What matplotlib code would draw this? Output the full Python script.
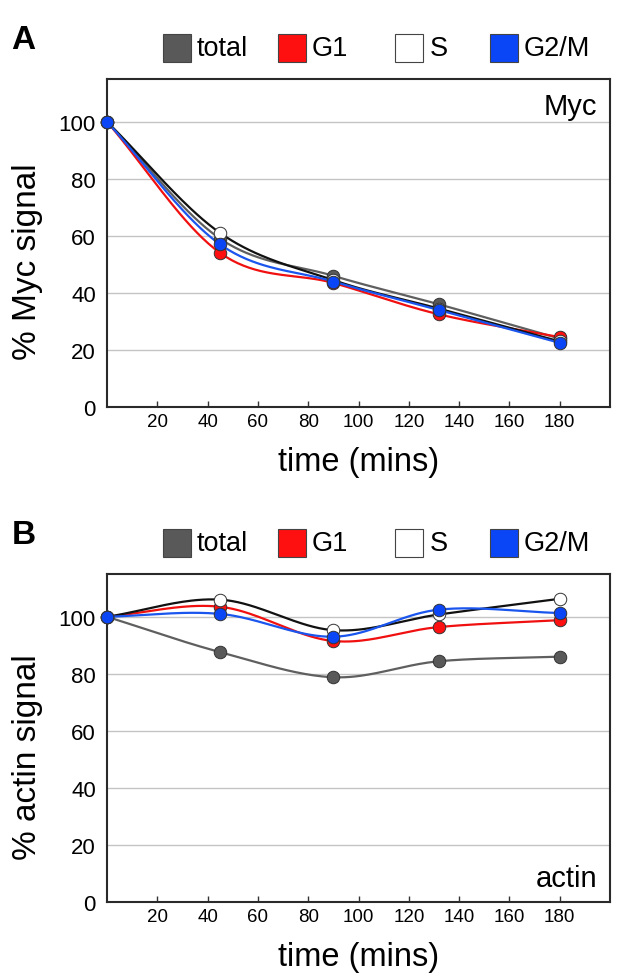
import matplotlib
matplotlib.use('Agg')
import matplotlib.pyplot as plt
import matplotlib.patches as patches
import numpy as np

plt.rcParams['font.family'] = ['Liberation Sans', 'DejaVu Sans']

# time points (mins)
times = [0, 45, 90, 132, 180]

# Myc signal (%)
myc_total = [100, 59, 46, 36, 24]
myc_g1 = [100, 54, 43.5, 32.5, 24.5]
myc_s = [100, 61, 44.5, 34.5, 23]
myc_g2m = [100, 57, 44, 34, 22.5]

# actin signal (%)
actin_total = [100, 87.6, 78.8, 84.4, 86]
actin_g1 = [100, 103.5, 91.5, 96.4, 98.8]
actin_s = [100, 106, 95.3, 100.8, 106.3]
actin_g2m = [100, 101, 93, 102.5, 101.3]

series_names = ['total', 'G1', 'S', 'G2/M']
face_colors = ['#595959', '#ff1010', '#ffffff', '#0a46f5']
line_colors = ['#5f5f5f', '#f01010', '#111111', '#1a55ee']
xtick_vals = [20, 40, 60, 80, 100, 120, 140, 160, 180]
ytick_vals = [0, 20, 40, 60, 80, 100]

# legend square positions (axes fraction), picked to match the original spacing
legend_x = [0.111, 0.340, 0.573, 0.761]


def smooth(xs, ys, n=40):
    # catmull-rom curve through the points, just for drawing
    xs = np.asarray(xs, float)
    ys = np.asarray(ys, float)
    px = np.concatenate([[2 * xs[0] - xs[1]], xs, [2 * xs[-1] - xs[-2]]])
    py = np.concatenate([[2 * ys[0] - ys[1]], ys, [2 * ys[-1] - ys[-2]]])
    out_x, out_y = [], []
    t = np.linspace(0, 1, n)
    for i in range(1, len(px) - 2):
        for p, out in ((px, out_x), (py, out_y)):
            p0, p1, p2, p3 = p[i - 1], p[i], p[i + 1], p[i + 2]
            out.extend(0.5 * (2 * p1 + (-p0 + p2) * t + (2 * p0 - 5 * p1 + 4 * p2 - p3) * t ** 2
                              + (-p0 + 3 * p1 - 3 * p2 + p3) * t ** 3))
    return out_x, out_y


def draw_panel(ax, data, ylabel, tag, tag_y, letter):
    for ys, lc in zip(data, line_colors):
        sx, sy = smooth(times, ys)
        ax.plot(sx, sy, color=lc, lw=1.6, zorder=3, solid_capstyle='round')
    for ys, fc in zip(data, face_colors):
        ax.plot(times, ys, 'o', ms=9, mfc=fc, mec='#333333', mew=0.7, zorder=4, clip_on=False)

    ax.set_xlim(0, 200)
    ax.set_ylim(0, 115)
    ax.set_xticks(xtick_vals)
    ax.set_yticks(ytick_vals)
    ax.tick_params(axis='x', direction='in', length=4, width=1, labelsize=13.5, pad=4, color='#333333')
    ax.tick_params(axis='y', length=0, labelsize=16, pad=8)
    for y in ytick_vals[1:]:
        ax.axhline(y, color='#c4c4c4', lw=1.0, zorder=1)
    for s in ax.spines.values():
        s.set_linewidth(1.5)
        s.set_color('#2a2a2a')
    ax.set_xlabel('time (mins)', fontsize=23.5, labelpad=12)
    ax.set_ylabel(ylabel, fontsize=24)
    ax.yaxis.set_label_coords(-0.127, 0.445)
    ax.text(0.975, tag_y, tag, transform=ax.transAxes, ha='right',
            va='top' if tag_y > 0.5 else 'bottom', fontsize=21)

    # legend: small squares with text, above the plot
    w = 28 / 503
    h = 28 / 329
    for lx, fc, nm in zip(legend_x, face_colors, series_names):
        ax.add_patch(patches.Rectangle((lx, 1.095 - h / 2), w, h, transform=ax.transAxes,
                                       facecolor=fc, edgecolor='#444444', lw=0.8, clip_on=False))
        ax.text(lx + w + 0.012, 1.095, nm, transform=ax.transAxes, fontsize=19.5,
                ha='left', va='center')
    ax.text(-0.19, 1.12, letter, transform=ax.transAxes, fontsize=24, fontweight='bold',
            ha='left', va='center')


fig = plt.figure(figsize=(6.24, 9.79), dpi=100)
ax_a = fig.add_axes([0.1715, 0.5832, 0.8061, 0.3351])
ax_b = fig.add_axes([0.1715, 0.0776, 0.8061, 0.3351])

draw_panel(ax_a, [myc_total, myc_g1, myc_s, myc_g2m], '% Myc signal', 'Myc', 0.96, 'A')
draw_panel(ax_b, [actin_total, actin_g1, actin_s, actin_g2m], '% actin signal', 'actin', 0.03, 'B')

fig.savefig('out.png', dpi=100)
